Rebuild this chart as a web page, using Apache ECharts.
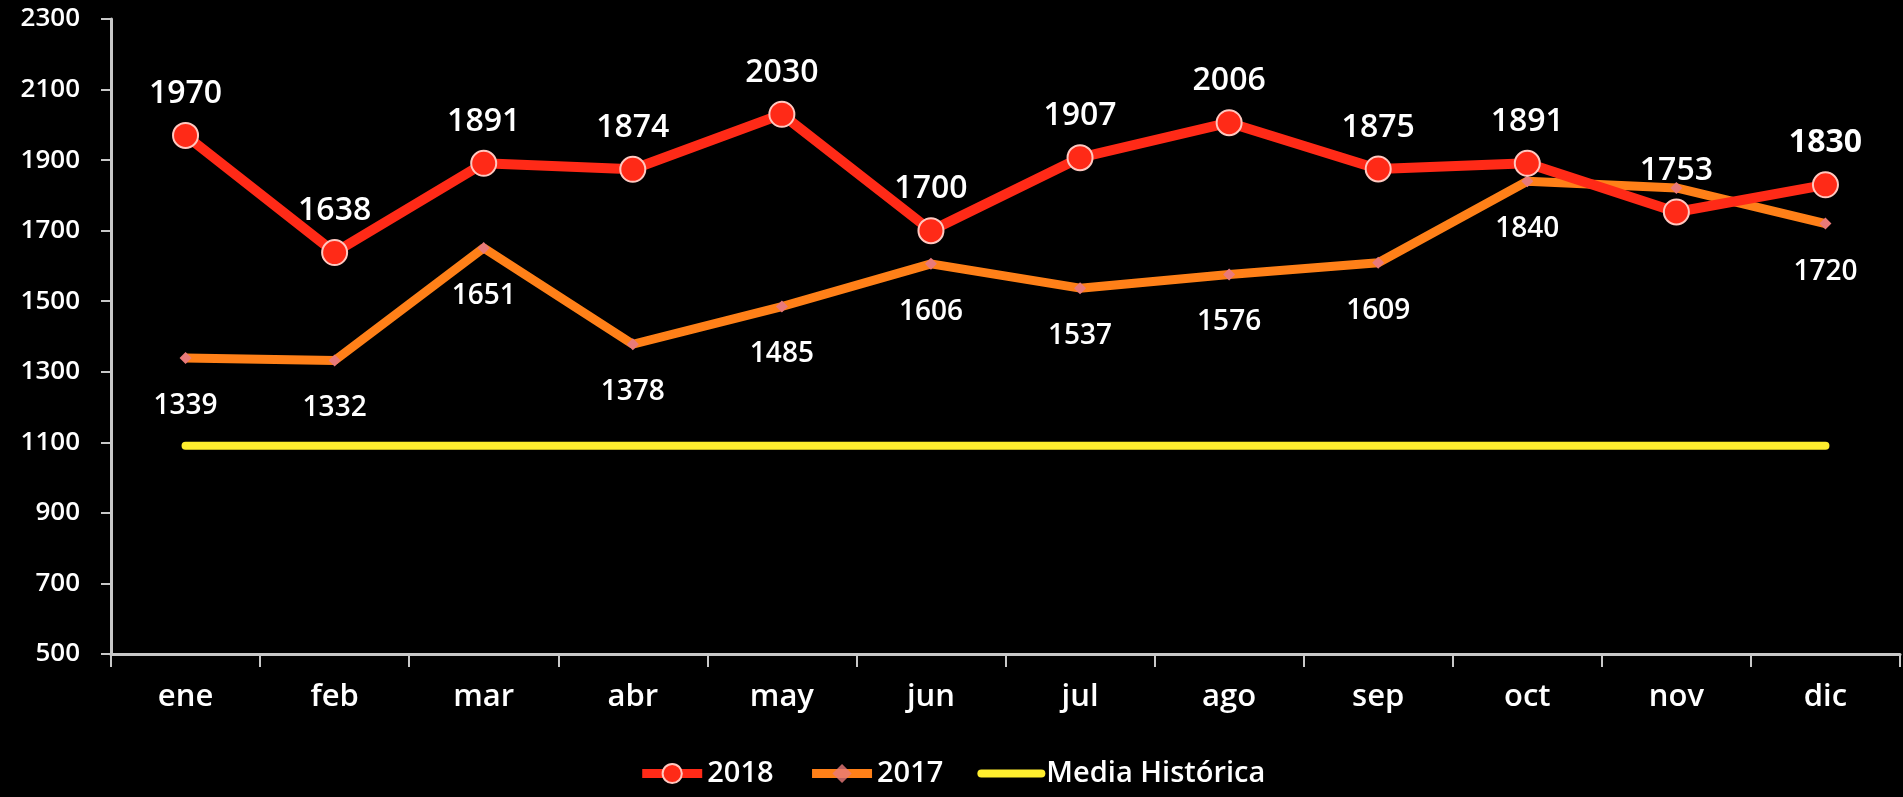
<!DOCTYPE html>
<html>
<head>
<meta charset="utf-8">
<script src="https://cdn.jsdelivr.net/npm/echarts@6/dist/echarts.min.js"></script>
<style>
html,body{margin:0;padding:0;background:#000;}
#c{width:1903px;height:797px;}
</style>
</head>
<body>
<div id="c"></div>
<script>
var categories = ['ene','feb','mar','abr','may','jun','jul','ago','sep','oct','nov','dic'];
var values2018 = [1970,1638,1891,1874,2030,1700,1907,2006,1875,1891,1753,1830];
var values2017 = [1339,1332,1651,1378,1485,1606,1537,1576,1609,1840,1821,1720];
var mediaHistorica = [1090,1090,1090,1090,1090,1090,1090,1090,1090,1090,1090,1090];
var yTicks = {min:500, max:2300, interval:200};
var hiddenLabels2017 = ['nov'];
var boldLabels2018 = ['dic'];

var FONT = '"Open Sans", "Noto Sans", sans-serif';
var W = 600;

var d2018 = values2018.map(function(v,i){
  var o = {value:v};
  if (boldLabels2018.indexOf(categories[i]) >= 0) o.label = {fontWeight:'bold'};
  return o;
});
var d2017 = values2017.map(function(v,i){
  var o = {value:v};
  if (hiddenLabels2017.indexOf(categories[i]) >= 0) o.label = {show:false};
  return o;
});

var chart = echarts.init(document.getElementById('c'));
chart.setOption({
  backgroundColor:'#000',
  animation:false,
  grid:{left:111, right:3, top:19, bottom:143, containLabel:false},
  legend:{
    bottom:4, left:'center',
    itemWidth:60, itemHeight:24, itemGap:34,
    textStyle:{color:'#fff', fontSize:29, fontFamily:FONT, fontWeight:W},
    data:[
      {name:'2018', lineStyle:{width:9}},
      {name:'2017', lineStyle:{width:9}, itemStyle:{opacity:0.8}},
      {name:'Media Histórica', lineStyle:{width:8}, itemStyle:{opacity:0}}
    ]
  },
  xAxis:{
    type:'category', data:categories, boundaryGap:true,
    axisLine:{lineStyle:{color:'#c8c8c8', width:3}},
    axisTick:{show:true, length:13, inside:false, lineStyle:{color:'#c8c8c8', width:2}},
    axisLabel:{color:'#fff', fontSize:31, fontFamily:FONT, fontWeight:W, margin:28}
  },
  yAxis:{
    type:'value', min:yTicks.min, max:yTicks.max, interval:yTicks.interval,
    axisLine:{show:true, lineStyle:{color:'#c8c8c8', width:3}},
    axisTick:{show:true, length:10, lineStyle:{color:'#c8c8c8', width:2}},
    splitLine:{show:false},
    axisLabel:{color:'#fff', fontSize:26, fontFamily:FONT, fontWeight:W, margin:31,
      formatter:function(v){return String(v);}}
  },
  series:[
    {
      name:'2018', type:'line', data:d2018, z:4,
      symbol:'circle', symbolSize:25,
      lineStyle:{color:'#ff2a17', width:10},
      itemStyle:{color:'#ff2a17', borderColor:'#ffc8c0', borderWidth:2},
      label:{show:true, position:'top', distance:12, color:'#fff', fontSize:32, fontFamily:FONT, fontWeight:W}
    },
    {
      name:'2017', type:'line', data:d2017, z:3,
      symbol:'diamond', symbolSize:12,
      lineStyle:{color:'#ff8018', width:9},
      itemStyle:{color:'#e97a7a', borderWidth:0},
      label:{show:true, position:'bottom', distance:28, color:'#fff', fontSize:28, fontFamily:FONT, fontWeight:W}
    },
    {
      name:'Media Histórica', type:'line', data:mediaHistorica, z:2,
      symbol:'none', showSymbol:false,
      lineStyle:{color:'#ffee2e', width:8, cap:'round'},
      itemStyle:{color:'#ffee2e'}
    }
  ]
});
</script>
</body>
</html>
